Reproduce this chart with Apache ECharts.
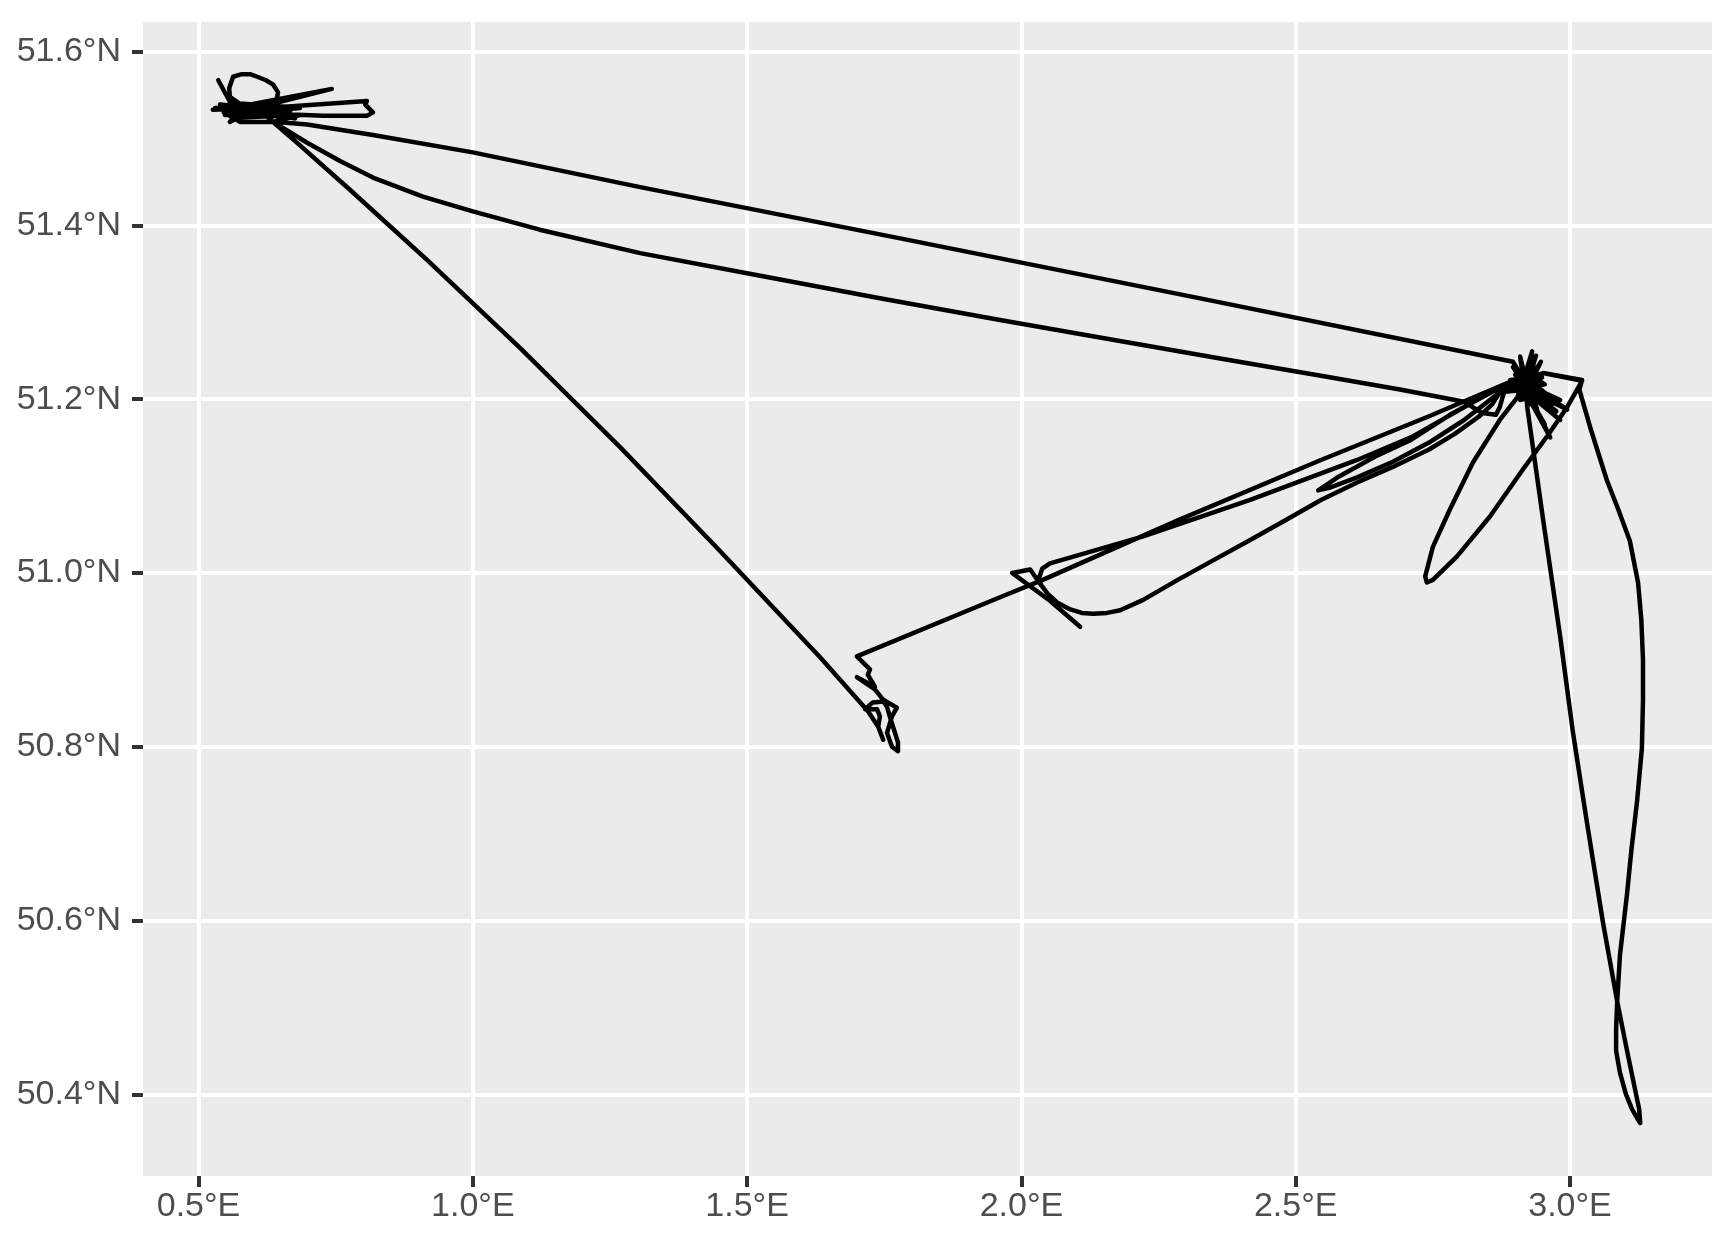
<!DOCTYPE html>
<html>
<head>
<meta charset="utf-8">
<script src="https://cdn.jsdelivr.net/npm/echarts@6/dist/echarts.min.js"></script>
<style>
  html, body { margin: 0; padding: 0; background: #ffffff; }
  #chart { width: 1726px; height: 1256px; }
</style>
</head>
<body>
<div id="chart"></div>
<script>
// Tick positions (degrees)
const lonTicks = [0.5, 1.0, 1.5, 2.0, 2.5, 3.0];
const latTicks = [50.4, 50.6, 50.8, 51.0, 51.2, 51.4, 51.6];

// Axis extents (ggplot default 5% expansion around data)
const lonRange = [0.3988, 3.2588];
const latRange = [50.306, 51.634];

// GPS track, in order (longitude / latitude)
const trackLon = [
  2.107,2.052,1.983,2.016,
  2.036,2.048,2.065,2.089,2.110,2.131,2.156,2.180,2.222,2.285,2.351,2.417,2.482,2.546,2.612,2.677,2.743,2.790,2.834,2.858,2.872,2.913,
  2.931,2.920,2.947,2.922,
  2.872,2.807,2.743,2.677,2.612,2.561,2.541,2.579,2.645,2.710,2.781,2.872,2.913,
  2.982,2.923,2.909,2.918,
  2.905,2.872,2.823,2.781,2.750,2.736,2.739,2.750,2.794,2.854,2.914,2.958,2.995,3.022,2.951,2.913,
  2.995,2.927,2.896,2.920,
  2.951,3.022,3.017,3.038,3.067,3.088,3.109,3.124,3.130,3.133,3.133,3.131,3.122,3.112,3.104,3.091,3.086,3.084,3.084,3.091,3.102,3.113,3.124,3.128,
  3.126,3.104,3.086,3.060,3.031,3.005,2.982,2.951,2.922,2.920,
  2.982,2.925,2.964,2.918,2.938,2.916,
  2.900,2.945,2.909,2.936,2.894,2.954,2.918,2.927,2.891,2.949,2.905,2.942,2.913,2.933,2.902,2.960,2.922,2.940,2.909,2.923,
  2.872,2.710,2.612,2.417,2.222,2.090,2.052,2.038,2.032,
  2.036,2.048,2.065,2.089,2.110,2.131,2.156,2.180,2.222,2.285,2.351,2.417,2.482,2.546,2.612,2.677,2.743,2.790,2.834,2.858,2.872,2.913,
  2.975,2.914,2.954,2.913,
  2.891,2.742,2.546,2.287,2.039,1.961,1.700,
  1.724,1.720,1.733,1.700,1.733,1.748,1.773,1.764,1.755,1.764,1.775,1.775,1.766,1.760,1.755,1.748,1.729,1.715,1.737,1.742,1.739,1.748,1.739,1.720,
  1.633,1.451,1.268,1.086,0.917,0.776,0.685,0.636,
  0.616,0.587,0.557,0.556,0.563,0.579,0.594,0.607,0.623,0.636,0.645,0.643,0.639,0.603,0.526,0.585,0.743,0.598,0.807,0.804,0.818,0.807,0.727,0.576,0.557,0.616,0.676,0.594,
  0.539,0.667,0.548,0.685,0.557,0.658,0.530,0.630,0.576,0.685,
  0.636,
  0.698,0.758,0.818,0.909,1.000,1.122,1.305,1.524,1.742,1.961,2.143,2.378,2.546,2.690,2.807,2.840,2.865,2.872,2.880,2.900,
  2.936,2.923,2.967,2.920,2.896,
  2.326,1.779,1.305,1.000,0.818,0.698,0.643,0.576,0.546,0.590,0.572,0.536
];
const trackLat = [
  50.938,50.968,51.000,51.004,
  50.986,50.976,50.966,50.958,50.954,50.953,50.954,50.957,50.969,50.992,51.015,51.038,51.061,51.084,51.104,51.122,51.142,51.160,51.180,51.194,51.208,51.218,
  51.255,51.216,51.243,51.211,
  51.208,51.176,51.150,51.128,51.110,51.098,51.095,51.111,51.134,51.153,51.182,51.213,51.219,
  51.199,51.213,51.249,51.211,
  51.203,51.176,51.127,51.073,51.030,50.996,50.989,50.992,51.019,51.065,51.119,51.157,51.191,51.221,51.230,51.222,
  51.188,51.209,51.237,51.213,
  51.230,51.222,51.211,51.165,51.107,51.073,51.037,50.989,50.946,50.900,50.854,50.798,50.736,50.682,50.631,50.560,50.507,50.475,50.450,50.425,50.400,50.383,50.371,50.367,
  50.383,50.450,50.507,50.598,50.712,50.818,50.927,51.061,51.191,51.209,
  51.176,51.206,51.156,51.209,51.250,51.216,
  51.228,51.205,51.199,51.234,51.211,51.217,51.232,51.194,51.222,51.225,51.205,51.199,51.236,51.209,51.218,51.204,51.225,51.188,51.213,51.216,
  51.214,51.156,51.130,51.084,51.042,51.018,51.011,51.005,50.994,
  50.986,50.976,50.966,50.958,50.954,50.953,50.954,50.957,50.969,50.992,51.015,51.038,51.061,51.084,51.104,51.122,51.142,51.160,51.180,51.194,51.208,51.218,
  51.186,51.213,51.171,51.216,
  51.220,51.180,51.130,51.061,50.992,50.972,50.904,
  50.889,50.883,50.869,50.880,50.866,50.854,50.845,50.835,50.816,50.800,50.795,50.805,50.823,50.835,50.846,50.852,50.851,50.843,50.843,50.835,50.823,50.808,50.823,50.841,
  50.903,51.025,51.145,51.259,51.360,51.441,51.492,51.519,
  51.530,51.535,51.548,51.558,51.571,51.574,51.574,51.571,51.567,51.562,51.553,51.547,51.542,51.535,51.533,51.538,51.557,51.534,51.543,51.539,51.530,51.526,51.526,51.530,51.519,51.538,51.523,51.533,
  51.539,51.531,51.527,51.535,51.541,51.524,51.535,51.533,51.524,51.527,
  51.519,
  51.495,51.474,51.455,51.433,51.416,51.395,51.368,51.342,51.316,51.291,51.271,51.245,51.227,51.211,51.197,51.184,51.182,51.191,51.209,51.217,
  51.248,51.209,51.194,51.218,51.243,
  51.316,51.385,51.444,51.484,51.504,51.516,51.519,51.519,51.530,51.535,51.525,51.567
];

const trackData = trackLon.map((x, i) => [x, trackLat[i]]);

const FONT = '"Liberation Sans", Arial, Helvetica, sans-serif';
const chart = echarts.init(document.getElementById('chart'), null, { renderer: 'canvas' });

chart.setOption({
  animation: false,
  backgroundColor: '#ffffff',
  grid: {
    left: 143, top: 22, width: 1569, height: 1154,
    show: true, backgroundColor: '#EBEBEB', borderWidth: 0,
    containLabel: false
  },
  xAxis: {
    type: 'value',
    min: lonRange[0], max: lonRange[1],
    axisLine: { show: false },
    axisTick: { show: true, length: 11, customValues: lonTicks,
      lineStyle: { color: '#333333', width: 4 } },
    axisLabel: { show: true, customValues: lonTicks, margin: 14,
      color: '#4D4D4D', fontSize: 34, fontFamily: FONT,
      formatter: v => v.toFixed(1) + '°E' },
    splitLine: { show: true, lineStyle: { color: '#ffffff', width: 4 } }
  },
  yAxis: {
    type: 'value',
    min: latRange[0], max: latRange[1],
    axisLine: { show: false },
    axisTick: { show: true, length: 11, customValues: latTicks,
      lineStyle: { color: '#333333', width: 4 } },
    axisLabel: { show: true, customValues: latTicks, margin: 22,
      color: '#4D4D4D', fontSize: 34, fontFamily: FONT,
      formatter: v => v.toFixed(1) + '°N' },
    splitLine: { show: true, lineStyle: { color: '#ffffff', width: 4 } }
  },
  series: [{
    type: 'line',
    data: trackData,
    showSymbol: false,
    symbol: 'none',
    smooth: false,
    clip: true,
    lineStyle: { color: '#000000', width: 4.5, cap: 'round', join: 'round' }
  }]
});
</script>
</body>
</html>
